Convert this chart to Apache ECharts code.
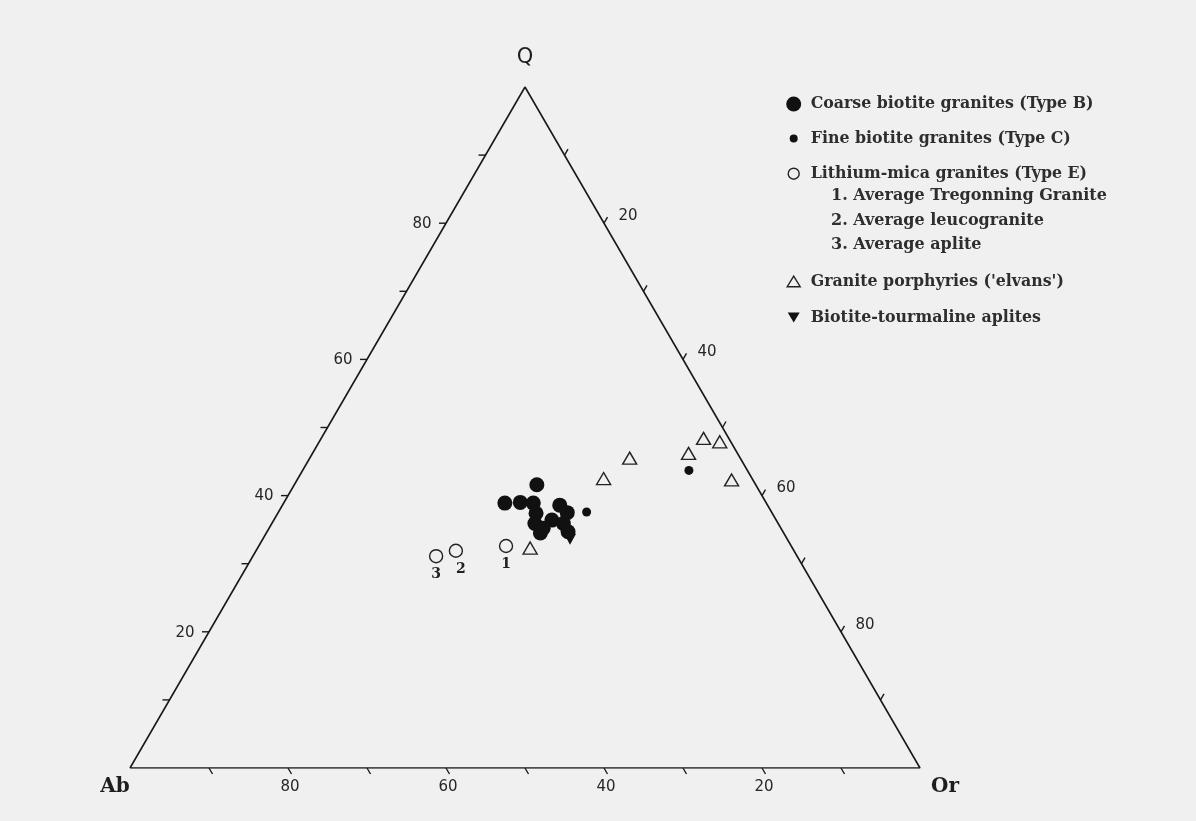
<!DOCTYPE html>
<html><head><meta charset="utf-8">
<script src="https://cdn.jsdelivr.net/npm/echarts@6/dist/echarts.min.js"></script>
<style>html,body{margin:0;padding:0;background:#f0f0f0}#c{width:1196px;height:821px}</style>
</head><body><div id="c"></div>
<script>
// Ternary compositions, each point as [Q, Ab, Or] in percent
const vertexNames = ['Ab', 'Or', 'Q'];
const vertices = [[0, 100, 0], [0, 0, 100], [100, 0, 0]];
const tickValues = [10, 20, 30, 40, 50, 60, 70, 80, 90];
const tickLabelValues = [20, 40, 60, 80];

const coarseBiotite = [
  [41.6, 27.7, 30.7], [38.9, 33.1, 28.0], [39.0, 31.1, 29.9], [38.9, 29.5, 31.6],
  [37.4, 29.9, 32.7], [35.9, 30.8, 33.3], [34.5, 30.8, 34.7], [38.6, 26.3, 35.1],
  [37.5, 25.9, 36.6], [36.4, 28.4, 35.2], [35.9, 27.2, 36.9], [35.2, 30.1, 34.7],
  [34.7, 27.2, 38.1]
];
const fineBiotite = [[37.6, 23.4, 39.0], [43.7, 7.4, 48.9]];
const lithiumMica = [[32.6, 36.1, 31.3], [31.9, 42.8, 25.3], [31.1, 45.7, 23.2]];
const lithiumLabels = ['1', '2', '3'];
const porphyries = [
  [32.3, 33.2, 34.5], [42.5, 18.8, 38.7], [45.5, 14.0, 40.5], [46.2, 6.2, 47.6],
  [48.4, 3.2, 48.4], [47.9, 1.4, 50.7], [42.3, 2.7, 55.0]
];
const tourmalineAplites = [[33.6, 27.5, 38.9]];

const seriesNames = [
  'Coarse biotite granites (Type B)',
  'Fine biotite granites (Type C)',
  'Lithium-mica granites (Type E)',
  "Granite porphyries ('elvans')",
  'Biotite-tourmaline aplites'
];
const lithiumNotes = ['1. Average Tregonning Granite', '2. Average leucogranite', '3. Average aplite'];

// ---- ternary -> cartesian (x: 0..100 along base, y: Q 0..100 height)
function toXY(p) {
  const s = p[0] + p[1] + p[2];
  const q = p[0] / s * 100, or = p[2] / s * 100;
  return [or + q / 2, q];
}
function axisPoint(edge, v) {
  if (edge === 0) return toXY([v, 100 - v, 0]);   // Q scale on Ab-Q side
  if (edge === 1) return toXY([100 - v, 0, v]);   // Or scale on Q-Or side
  return toXY([0, v, 100 - v]);                   // Ab scale on base
}

const INK = '#1a1a1a';
const BG = '#f0f0f0';
const tickDir = [[-7, 0], [3.5, -6], [3.5, 6]];
const labelOff = [[-24, 1], [24, -7], [2, 19]];
const vertexOff = [[-15, 19], [25, 19], [0, -29]];
const vertexFont = ['bold 20px "DejaVu Serif"', 'bold 20px "DejaVu Serif"', '21px "DejaVu Sans"'];

const tickData = [];
[0, 1, 2].forEach(e => tickValues.forEach(v => tickData.push([e, v])));

const serifText = { fontFamily: 'DejaVu Serif', fontWeight: 'bold', fontSize: 15.8, color: '#2e2e2e' };

const chart = echarts.init(document.getElementById('c'));
chart.setOption({
  backgroundColor: BG,
  animation: false,
  grid: { left: 130, top: 87, width: 790, height: 681 },
  xAxis: { type: 'value', min: 0, max: 100, show: false },
  yAxis: { type: 'value', min: 0, max: 100, show: false },
  legend: [
    {
      orient: 'vertical', left: 770, top: 90, itemWidth: 30, itemHeight: 18, itemGap: 16.5,
      selectedMode: false, textStyle: serifText,
      data: [
        { name: seriesNames[0], icon: 'path://M0,0M30,18M25.5,9A7.5,7.5,0,1,1,10.5,9A7.5,7.5,0,1,1,25.5,9Z', itemStyle: { color: '#111', borderWidth: 0 } },
        { name: seriesNames[1], icon: 'path://M0,0M30,18M22,9A4,4,0,1,1,14,9A4,4,0,1,1,22,9Z', itemStyle: { color: '#111', borderWidth: 0 } },
        { name: seriesNames[2], icon: 'path://M0,0M30,18M23.5,9A5.5,5.5,0,1,1,12.5,9A5.5,5.5,0,1,1,23.5,9Z', itemStyle: { color: BG, borderColor: '#222', borderWidth: 1.4 } }
      ]
    },
    {
      orient: 'vertical', left: 770, top: 267, itemWidth: 30, itemHeight: 18, itemGap: 17,
      selectedMode: false, textStyle: serifText,
      data: [
        { name: seriesNames[3], icon: 'path://M0,0M30,18M18,3.5L24.5,14L11.5,14Z', itemStyle: { color: BG, borderColor: '#222', borderWidth: 1.4 } },
        { name: seriesNames[4], icon: 'path://M0,0M30,18M12,4L24,4L18,14Z', itemStyle: { color: '#111', borderWidth: 0 } }
      ]
    }
  ],
  graphic: lithiumNotes.map((t, i) => ({
    type: 'text', left: 831, top: 188 + i * 24.5,
    style: { text: t, font: 'bold 16px "DejaVu Serif"', fill: '#2e2e2e' }
  })),
  series: [
    {
      type: 'line', silent: true, symbol: 'none', z: 1,
      data: [vertices[0], vertices[1], vertices[2], vertices[0]].map(toXY),
      lineStyle: { color: INK, width: 1.6 }
    },
    {
      type: 'custom', silent: true, clip: false, z: 1,
      data: tickData,
      renderItem: function (params, api) {
        const edge = api.value(0), v = api.value(1);
        const p = api.coord(axisPoint(edge, v));
        const d = tickDir[edge];
        const children = [{
          type: 'line',
          shape: { x1: p[0], y1: p[1], x2: p[0] + d[0], y2: p[1] + d[1] },
          style: { stroke: INK, lineWidth: 1.4 }
        }];
        if (tickLabelValues.indexOf(v) >= 0) {
          const o = labelOff[edge];
          children.push({
            type: 'text', x: p[0] + o[0], y: p[1] + o[1],
            style: { text: String(v), align: 'center', verticalAlign: 'middle',
                     font: '15px "DejaVu Sans"', fill: '#262626' }
          });
        }
        return { type: 'group', children: children };
      }
    },
    {
      type: 'custom', silent: true, clip: false, z: 1,
      data: vertices.map((v, i) => [i]),
      renderItem: function (params, api) {
        const i = api.value(0);
        const p = api.coord(toXY(vertices[i]));
        const o = vertexOff[i];
        return {
          type: 'text', x: p[0] + o[0], y: p[1] + o[1],
          style: { text: vertexNames[i], align: 'center', verticalAlign: 'middle',
                   font: vertexFont[i], fill: '#1e1e1e' }
        };
      }
    },
    {
      name: seriesNames[3], type: 'scatter', symbol: 'triangle', symbolSize: [14, 12], z: 3,
      data: porphyries.map(toXY),
      itemStyle: { color: BG, borderColor: '#222', borderWidth: 1.4, opacity: 1 }
    },
    {
      name: seriesNames[2], type: 'scatter', symbol: 'circle', symbolSize: 13, z: 3,
      data: lithiumMica.map((p, i) => ({
        value: toXY(p),
        label: { show: true, position: 'bottom', distance: 4, formatter: lithiumLabels[i],
                 offset: i === 1 ? [5, 0] : [0, 0],
                 fontFamily: 'DejaVu Serif', fontWeight: 'bold', fontSize: 14, color: '#222' }
      })),
      itemStyle: { color: BG, borderColor: '#222', borderWidth: 1.4, opacity: 1 }
    },
    {
      name: seriesNames[0], type: 'scatter', symbol: 'circle', symbolSize: 15, z: 4,
      data: coarseBiotite.map(toXY),
      itemStyle: { color: '#111', opacity: 1 }
    },
    {
      name: seriesNames[1], type: 'scatter', symbol: 'circle', symbolSize: 9, z: 4,
      data: fineBiotite.map(toXY),
      itemStyle: { color: '#111', opacity: 1 }
    },
    {
      name: seriesNames[4], type: 'scatter', symbol: 'triangle', symbolRotate: 180, symbolSize: [12, 11], z: 5,
      data: tourmalineAplites.map(toXY),
      itemStyle: { color: '#111', opacity: 1 }
    }
  ]
});
</script></body></html>
